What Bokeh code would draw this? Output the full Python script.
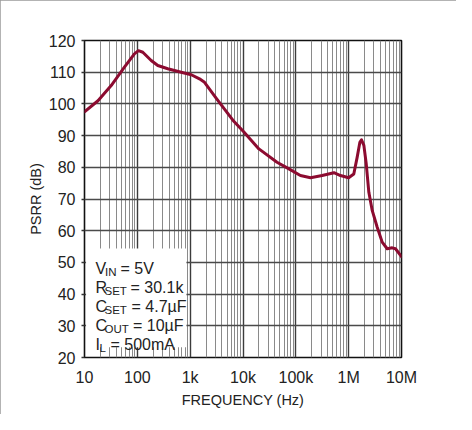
from bokeh.plotting import figure
from bokeh.models import FixedTicker, BoxAnnotation, Label
from bokeh.embed import file_html
from bokeh.resources import INLINE

# ---- data ----
freq_hz = [10, 18, 32, 57, 88, 105, 127, 183, 244, 377, 676, 1050, 1500, 1870,
           3100, 6700, 10300, 20000, 44000, 74000, 122000, 190000, 315000,
           525000, 700000, 1000000, 1250000, 1450000, 1630000, 1750000,
           1940000, 2150000, 2410000, 2790000, 3470000, 4310000, 5360000,
           6670000, 7700000, 9600000, 10000000]
psrr_db = [97.5, 101.0, 105.8, 111.6, 115.8, 116.8, 116.3, 113.7, 112.1, 111.1,
           110.0, 109.2, 107.9, 106.8, 101.8, 94.5, 91.2, 85.8, 81.6, 79.5,
           77.4, 76.7, 77.4, 78.3, 77.4, 76.7, 77.9, 83.2, 87.9, 88.7,
           86.9, 81.1, 72.1, 66.4, 61.1, 56.4, 54.3, 54.6, 54.3, 52.2, 51.8]

x_major_ticks = [10, 100, 1000, 10000, 100000, 1000000, 10000000]
x_tick_labels = ["10", "100", "1k", "10k", "100k", "1M", "10M"]
y_ticks = [20, 30, 40, 50, 60, 70, 80, 90, 100, 110, 120]

cond_main = ["V", "R", "C", "C", "I"]
cond_sub = ["IN", "SET", "SET", "OUT", "L"]
cond_value = ["= 5V", "= 30.1k", "= 4.7µF", "= 10µF", "= 500mA"]

# ---- figure ----
FONT = "Liberation Sans"
TXT = "#222222"
CURVE = "#8c0b30"

p = figure(width=456, height=414, x_axis_type="log",
           x_range=(10, 1e7), y_range=(20, 120),
           output_backend="svg", toolbar_location=None,
           min_border_left=84, min_border_right=55,
           min_border_top=40, min_border_bottom=57)
p.styles = {"outline": "1px solid #9a9a9a", "outline-offset": "-1px"}

minor = [m * d for d in x_major_ticks[:-1] for m in range(2, 10)]
p.xaxis.ticker = FixedTicker(ticks=x_major_ticks, minor_ticks=minor)
p.xaxis.major_label_overrides = {t: l for t, l in zip(x_major_ticks, x_tick_labels)}
p.yaxis.ticker = FixedTicker(ticks=y_ticks)

for ax in (p.xaxis, p.yaxis):
    ax.axis_line_color = None
    ax.minor_tick_line_color = None
    ax.major_label_text_font = FONT
    ax.major_label_text_font_size = "16px"
    ax.major_label_text_color = TXT
    ax.axis_label_text_font = FONT
    ax.axis_label_text_font_size = "14.5px"
    ax.axis_label_text_font_style = "normal"
    ax.axis_label_text_color = TXT

p.xaxis.major_tick_line_color = None
p.xaxis.major_label_standoff = 5
p.xaxis.axis_label = "FREQUENCY (Hz)"
p.xaxis.axis_label_standoff = 3

p.yaxis.major_tick_out = 3
p.yaxis.major_tick_in = 0
p.yaxis.major_tick_line_color = "#333333"
p.yaxis.major_tick_line_width = 1.5
p.yaxis.major_label_standoff = 6
p.yaxis.axis_label = "PSRR (dB)"
p.yaxis.axis_label_standoff = 2

p.xgrid.grid_line_color = "#3c3c3c"
p.xgrid.grid_line_width = 1.4
p.xgrid.minor_grid_line_color = "#8a8a8a"
p.xgrid.minor_grid_line_width = 1.0
p.ygrid.grid_line_color = "#4a4a4a"
p.ygrid.grid_line_width = 1.4

p.outline_line_color = "#111111"
p.outline_line_width = 1.6
p.background_fill_color = "white"

p.line(freq_hz, psrr_db, line_color=CURVE, line_width=3,
       line_join="round", line_cap="round")

# conditions box (white, covers the grid)
p.add_layout(BoxAnnotation(left=10.7, right=850, bottom=23.2, top=54.4,
                           fill_color="white", fill_alpha=1.0,
                           line_color=None, level="glyph"))

main_x = [11, 11, 11, 11, 11]
sub_x = [20.5, 20, 20, 20, 15]
val_x = [36, 46, 47, 48.5, 26]
for i in range(5):
    base = 48.1 - 6.0 * i
    p.add_layout(Label(x=10, y=base, x_offset=main_x[i], text=cond_main[i],
                       text_font=FONT, text_font_size="16px",
                       text_color=TXT, text_baseline="alphabetic"))
    p.add_layout(Label(x=10, y=base - 1.0, x_offset=sub_x[i], text=cond_sub[i],
                       text_font=FONT, text_font_size="11.5px",
                       text_color=TXT, text_baseline="alphabetic"))
    p.add_layout(Label(x=10, y=base, x_offset=val_x[i], text=cond_value[i],
                       text_font=FONT, text_font_size="16px",
                       text_color=TXT, text_baseline="alphabetic"))

open("out.html", "w").write(file_html(p, INLINE))
